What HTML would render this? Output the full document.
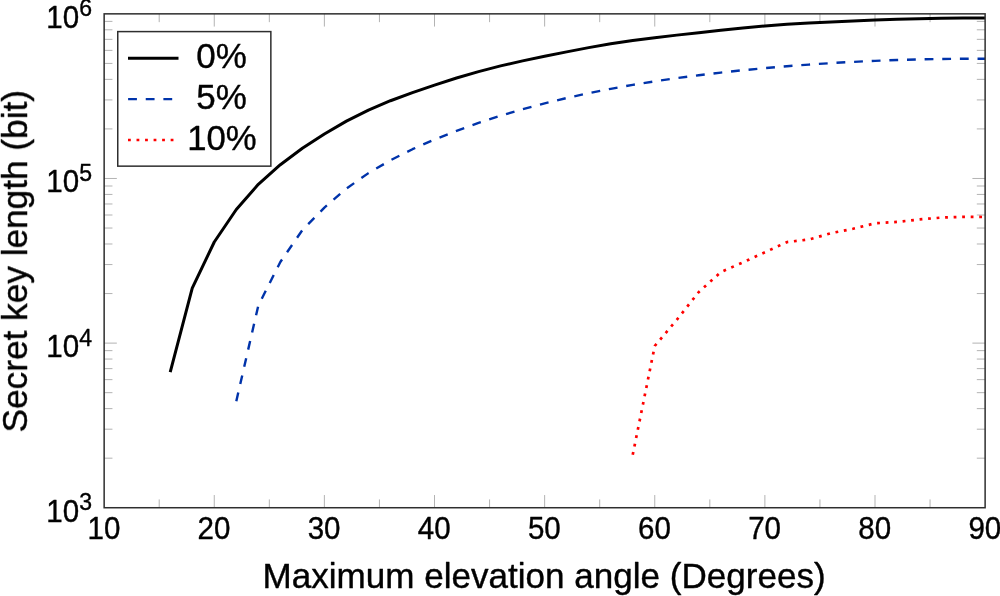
<!DOCTYPE html>
<html><head><meta charset="utf-8"><title>Secret key length vs maximum elevation angle</title>
<style>
html,body{margin:0;padding:0;background:#fff;}
svg{display:block;}
text{font-family:"Liberation Sans",Arial,Helvetica,sans-serif;fill:#000;}
</style></head><body>
<svg width="1000" height="596" viewBox="0 0 1000 596">
<rect width="1000" height="596" fill="#fff"/>
<g stroke="#808080" stroke-width="0.6" fill="none">
<line x1="159.21" y1="507.73" x2="159.21" y2="499.43"/>
<line x1="159.21" y1="13.85" x2="159.21" y2="22.15"/>
<line x1="214.27" y1="507.73" x2="214.27" y2="495.03"/>
<line x1="214.27" y1="13.85" x2="214.27" y2="26.55"/>
<line x1="269.33" y1="507.73" x2="269.33" y2="499.43"/>
<line x1="269.33" y1="13.85" x2="269.33" y2="22.15"/>
<line x1="324.39" y1="507.73" x2="324.39" y2="495.03"/>
<line x1="324.39" y1="13.85" x2="324.39" y2="26.55"/>
<line x1="379.45" y1="507.73" x2="379.45" y2="499.43"/>
<line x1="379.45" y1="13.85" x2="379.45" y2="22.15"/>
<line x1="434.51" y1="507.73" x2="434.51" y2="495.03"/>
<line x1="434.51" y1="13.85" x2="434.51" y2="26.55"/>
<line x1="489.57" y1="507.73" x2="489.57" y2="499.43"/>
<line x1="489.57" y1="13.85" x2="489.57" y2="22.15"/>
<line x1="544.63" y1="507.73" x2="544.63" y2="495.03"/>
<line x1="544.63" y1="13.85" x2="544.63" y2="26.55"/>
<line x1="599.70" y1="507.73" x2="599.70" y2="499.43"/>
<line x1="599.70" y1="13.85" x2="599.70" y2="22.15"/>
<line x1="654.76" y1="507.73" x2="654.76" y2="495.03"/>
<line x1="654.76" y1="13.85" x2="654.76" y2="26.55"/>
<line x1="709.82" y1="507.73" x2="709.82" y2="499.43"/>
<line x1="709.82" y1="13.85" x2="709.82" y2="22.15"/>
<line x1="764.88" y1="507.73" x2="764.88" y2="495.03"/>
<line x1="764.88" y1="13.85" x2="764.88" y2="26.55"/>
<line x1="819.94" y1="507.73" x2="819.94" y2="499.43"/>
<line x1="819.94" y1="13.85" x2="819.94" y2="22.15"/>
<line x1="875.00" y1="507.73" x2="875.00" y2="495.03"/>
<line x1="875.00" y1="13.85" x2="875.00" y2="26.55"/>
<line x1="930.06" y1="507.73" x2="930.06" y2="499.43"/>
<line x1="930.06" y1="13.85" x2="930.06" y2="22.15"/>
<line x1="104.15" y1="458.18" x2="112.45" y2="458.18"/>
<line x1="985.12" y1="458.18" x2="976.82" y2="458.18"/>
<line x1="104.15" y1="429.19" x2="112.45" y2="429.19"/>
<line x1="985.12" y1="429.19" x2="976.82" y2="429.19"/>
<line x1="104.15" y1="408.62" x2="112.45" y2="408.62"/>
<line x1="985.12" y1="408.62" x2="976.82" y2="408.62"/>
<line x1="104.15" y1="392.67" x2="112.45" y2="392.67"/>
<line x1="985.12" y1="392.67" x2="976.82" y2="392.67"/>
<line x1="104.15" y1="379.63" x2="112.45" y2="379.63"/>
<line x1="985.12" y1="379.63" x2="976.82" y2="379.63"/>
<line x1="104.15" y1="368.61" x2="112.45" y2="368.61"/>
<line x1="985.12" y1="368.61" x2="976.82" y2="368.61"/>
<line x1="104.15" y1="359.06" x2="112.45" y2="359.06"/>
<line x1="985.12" y1="359.06" x2="976.82" y2="359.06"/>
<line x1="104.15" y1="350.64" x2="112.45" y2="350.64"/>
<line x1="985.12" y1="350.64" x2="976.82" y2="350.64"/>
<line x1="104.15" y1="343.11" x2="116.85" y2="343.11"/>
<line x1="985.12" y1="343.11" x2="972.42" y2="343.11"/>
<line x1="104.15" y1="293.55" x2="112.45" y2="293.55"/>
<line x1="985.12" y1="293.55" x2="976.82" y2="293.55"/>
<line x1="104.15" y1="264.56" x2="112.45" y2="264.56"/>
<line x1="985.12" y1="264.56" x2="976.82" y2="264.56"/>
<line x1="104.15" y1="243.99" x2="112.45" y2="243.99"/>
<line x1="985.12" y1="243.99" x2="976.82" y2="243.99"/>
<line x1="104.15" y1="228.04" x2="112.45" y2="228.04"/>
<line x1="985.12" y1="228.04" x2="976.82" y2="228.04"/>
<line x1="104.15" y1="215.00" x2="112.45" y2="215.00"/>
<line x1="985.12" y1="215.00" x2="976.82" y2="215.00"/>
<line x1="104.15" y1="203.98" x2="112.45" y2="203.98"/>
<line x1="985.12" y1="203.98" x2="976.82" y2="203.98"/>
<line x1="104.15" y1="194.43" x2="112.45" y2="194.43"/>
<line x1="985.12" y1="194.43" x2="976.82" y2="194.43"/>
<line x1="104.15" y1="186.01" x2="112.45" y2="186.01"/>
<line x1="985.12" y1="186.01" x2="976.82" y2="186.01"/>
<line x1="104.15" y1="178.48" x2="116.85" y2="178.48"/>
<line x1="985.12" y1="178.48" x2="972.42" y2="178.48"/>
<line x1="104.15" y1="128.92" x2="112.45" y2="128.92"/>
<line x1="985.12" y1="128.92" x2="976.82" y2="128.92"/>
<line x1="104.15" y1="99.93" x2="112.45" y2="99.93"/>
<line x1="985.12" y1="99.93" x2="976.82" y2="99.93"/>
<line x1="104.15" y1="79.36" x2="112.45" y2="79.36"/>
<line x1="985.12" y1="79.36" x2="976.82" y2="79.36"/>
<line x1="104.15" y1="63.41" x2="112.45" y2="63.41"/>
<line x1="985.12" y1="63.41" x2="976.82" y2="63.41"/>
<line x1="104.15" y1="50.37" x2="112.45" y2="50.37"/>
<line x1="985.12" y1="50.37" x2="976.82" y2="50.37"/>
<line x1="104.15" y1="39.35" x2="112.45" y2="39.35"/>
<line x1="985.12" y1="39.35" x2="976.82" y2="39.35"/>
<line x1="104.15" y1="29.80" x2="112.45" y2="29.80"/>
<line x1="985.12" y1="29.80" x2="976.82" y2="29.80"/>
<line x1="104.15" y1="21.38" x2="112.45" y2="21.38"/>
<line x1="985.12" y1="21.38" x2="976.82" y2="21.38"/>
</g>
<polyline points="170.22,372.20 192.25,288.20 214.27,242.00 236.30,209.50 258.32,184.30 280.34,164.70 302.37,148.30 324.39,134.00 346.42,121.12 368.44,110.11 390.47,100.72 412.49,92.59 434.51,85.11 456.54,78.05 478.56,71.59 500.59,65.86 522.61,60.85 544.63,56.28 566.66,51.89 588.68,47.64 610.71,43.81 632.73,40.54 654.76,37.74 676.78,35.12 698.80,32.69 720.83,30.24 742.85,27.97 764.88,26.01 786.90,24.33 808.93,22.99 830.95,21.89 852.97,20.93 875.00,20.08 897.02,19.32 919.05,18.67 941.07,18.17 963.10,17.89 985.12,17.94" fill="none" stroke="#000" stroke-width="3.0" stroke-linejoin="round"/>
<polyline points="236.30,401.20 258.32,305.50 280.34,262.00 302.37,230.10 324.39,207.60 346.42,188.55 368.44,173.13 390.47,160.25 412.49,149.22 434.51,139.51 456.54,130.78 478.56,122.87 500.59,115.69 522.61,109.20 544.63,103.31 566.66,97.99 588.68,93.17 610.71,88.81 632.73,84.87 654.76,81.31 676.78,78.10 698.80,75.20 720.83,72.58 742.85,70.23 764.88,68.12 786.90,66.24 808.93,64.58 830.95,63.13 852.97,61.88 875.00,60.83 897.02,59.99 919.05,59.36 941.07,58.95 963.10,58.78 985.12,58.75" fill="none" stroke="#0033aa" stroke-width="2.4" stroke-dasharray="8.82 8.82" stroke-linejoin="round"/>
<polyline points="632.73,454.80 654.76,346.00 676.78,319.80 698.80,292.00 720.83,272.10 742.85,262.40 764.88,252.30 786.90,242.10 808.93,239.50 830.95,233.20 852.97,228.80 875.00,223.30 897.02,221.90 919.05,219.50 941.07,217.60 963.10,216.90 985.12,217.00" fill="none" stroke="#ff0000" stroke-width="2.7" stroke-dasharray="2.8 5.73" stroke-linejoin="round"/>
<rect x="104.15" y="13.85" width="880.97" height="493.88" fill="none" stroke="#2e2e2e" stroke-width="1.5"/>
<rect x="117.75" y="31.6" width="153.1" height="134.55" fill="#fff" stroke="#2e2e2e" stroke-width="1.5"/>
<line x1="128" y1="58.15" x2="178.5" y2="58.15" stroke="#000" stroke-width="3.0"/>
<line x1="128.1" y1="99.1" x2="178" y2="99.1" stroke="#0033aa" stroke-width="2.4" stroke-dasharray="8.82 8.82"/>
<line x1="128" y1="140" x2="178" y2="140" stroke="#ff0000" stroke-width="2.7" stroke-dasharray="2.8 5.73"/>
<g opacity="0.999" stroke="#000" stroke-width="0.4" stroke-linejoin="round">
<g font-size="30.7">
<text transform="translate(103.9,539.1) scale(0.962,1)" text-anchor="middle">10</text>
<text transform="translate(214.0,539.1) scale(0.962,1)" text-anchor="middle">20</text>
<text transform="translate(324.1,539.1) scale(0.962,1)" text-anchor="middle">30</text>
<text transform="translate(434.2,539.1) scale(0.962,1)" text-anchor="middle">40</text>
<text transform="translate(544.3,539.1) scale(0.962,1)" text-anchor="middle">50</text>
<text transform="translate(654.5,539.1) scale(0.962,1)" text-anchor="middle">60</text>
<text transform="translate(764.6,539.1) scale(0.962,1)" text-anchor="middle">70</text>
<text transform="translate(874.7,539.1) scale(0.962,1)" text-anchor="middle">80</text>
<text transform="translate(984.8,539.1) scale(0.962,1)" text-anchor="middle">90</text>
<text transform="translate(92,521.5) scale(0.962,1)" text-anchor="end">10<tspan dy="-11.4" font-size="24.0">3</tspan></text>
<text transform="translate(92,356.9) scale(0.962,1)" text-anchor="end">10<tspan dy="-11.4" font-size="24.0">4</tspan></text>
<text transform="translate(92,192.3) scale(0.962,1)" text-anchor="end">10<tspan dy="-11.4" font-size="24.0">5</tspan></text>
<text transform="translate(92,27.6) scale(0.962,1)" text-anchor="end">10<tspan dy="-11.4" font-size="24.0">6</tspan></text>
</g>
<text x="544.1" y="588" font-size="35.75" text-anchor="middle" textLength="563.2" lengthAdjust="spacingAndGlyphs">Maximum elevation angle (Degrees)</text>
<text transform="translate(27,261.2) rotate(-90)" font-size="35.75" text-anchor="middle" textLength="342.5" lengthAdjust="spacingAndGlyphs">Secret key length (bit)</text>
<g font-size="35.75" text-anchor="middle">
<text x="221.5" y="68.3" textLength="50.5" lengthAdjust="spacingAndGlyphs">0%</text>
<text x="221.5" y="109.3" textLength="50.5" lengthAdjust="spacingAndGlyphs">5%</text>
<text x="222" y="150.2" textLength="69.5" lengthAdjust="spacingAndGlyphs">10%</text>
</g>
</g>
</svg>
</body></html>
